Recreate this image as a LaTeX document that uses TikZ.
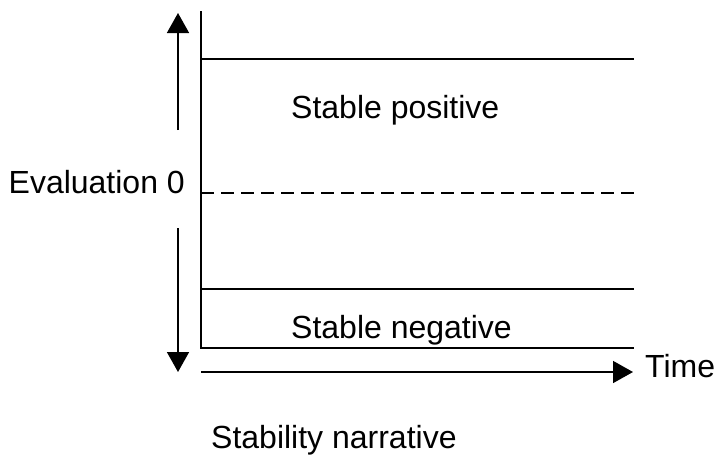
\documentclass[tikz,border=0pt]{standalone}
\usepackage{fontspec}
\setmainfont{Liberation Sans}
\usetikzlibrary{arrows.meta}
\tikzset{
  axisline/.style={line width=1.6pt},
  zeroline/.style={line width=1.6pt, dash pattern=on 13pt off 7pt},
  bigarrow/.style={line width=1.6pt, -{Triangle[width=22pt,length=20pt]}},
  lbl/.style={inner sep=0pt, font=\fontsize{32}{38}\selectfont}
}
\begin{document}
\begin{tikzpicture}[x=1pt,y=-1pt]
\useasboundingbox (0,0) rectangle (721,459);
% axis frame
\coordinate (vtop) at (201,11);
\coordinate (vbot) at (201,348);
\coordinate (topL) at (201,59);  \coordinate (topR) at (634,59);
\coordinate (zeroL) at (201,193); \coordinate (zeroR) at (634,193);
\coordinate (negL) at (201,289); \coordinate (negR) at (634,289);
\coordinate (botR) at (634,348);
\draw[axisline] (vtop) -- (vbot) -- (botR);
\draw[axisline] (topL) -- (topR);
\draw[axisline] (negL) -- (negR);
\draw[zeroline] (zeroL) -- (zeroR);
% evaluation arrows
\coordinate (upS) at (178,130); \coordinate (upE) at (178,13);
\coordinate (dnS) at (178,228); \coordinate (dnE) at (178,372);
\draw[bigarrow] (upS) -- (upE);
\draw[bigarrow] (dnS) -- (dnE);
% time arrow
\coordinate (tS) at (201,372); \coordinate (tE) at (633,372);
\draw[bigarrow] (tS) -- (tE);
% labels
\node[lbl, anchor=base east] (eval) at (185,193) {Evaluation 0};
\node[lbl, anchor=base west] (pos) at (291,118) {Stable positive};
\node[lbl, anchor=base west] (neg) at (291,338) {Stable negative};
\node[lbl, anchor=base west] (time) at (645,377) {Time};
\node[lbl, anchor=base west] (narr) at (211,448) {Stability narrative};
\end{tikzpicture}
\end{document}
